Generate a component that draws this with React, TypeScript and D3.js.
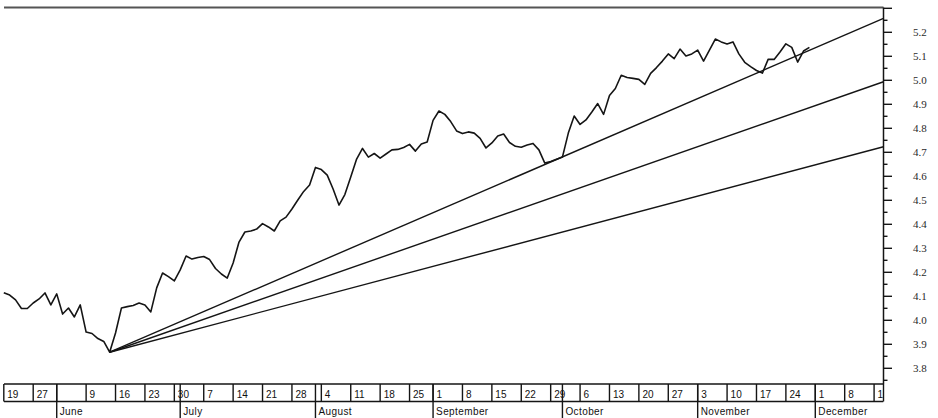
import React from "react";
import * as d3 from "d3";

const WIDTH = 938;
const HEIGHT = 418;

// Trading calendar (UK market, 2003)
const calendarStart = "2003-05-19";
const calendarEnd = "2003-12-19";
const holidays = ["2003-05-26", "2003-08-25"];

// Daily closing values, one per trading day from 19 May 2003
const yieldValues = [
  4.115, 4.105, 4.085, 4.049, 4.049, 4.072, 4.089, 4.114, 4.064, 4.110,
  4.026, 4.051, 4.014, 4.064, 3.951, 3.945, 3.924, 3.912, 3.867, 3.947,
  4.051, 4.057, 4.062, 4.072, 4.064, 4.035, 4.135, 4.197, 4.182, 4.164,
  4.210, 4.268, 4.255, 4.262, 4.266, 4.253, 4.216, 4.193, 4.176, 4.239,
  4.326, 4.368, 4.372, 4.380, 4.403, 4.389, 4.372, 4.414, 4.430, 4.464,
  4.501, 4.537, 4.564, 4.637, 4.628, 4.605, 4.547, 4.480, 4.524, 4.597,
  4.672, 4.716, 4.680, 4.695, 4.676, 4.693, 4.710, 4.712, 4.720, 4.733,
  4.705, 4.735, 4.743, 4.833, 4.872, 4.858, 4.828, 4.789, 4.778, 4.785,
  4.780, 4.758, 4.718, 4.739, 4.768, 4.776, 4.741, 4.725, 4.721, 4.730,
  4.737, 4.710, 4.655, 4.662, 4.671, 4.680, 4.780, 4.851, 4.816, 4.835,
  4.868, 4.903, 4.858, 4.937, 4.966, 5.021, 5.012, 5.008, 5.004, 4.983,
  5.029, 5.053, 5.080, 5.110, 5.090, 5.130, 5.101, 5.110, 5.126, 5.080,
  5.126, 5.172, 5.160, 5.151, 5.160, 5.110, 5.075, 5.057, 5.041, 5.030,
  5.088, 5.087, 5.118, 5.152, 5.137, 5.076, 5.122, 5.137,
];

// Fan lines: values reached at the right edge of the plot
const fanEndValues = [5.258, 4.994, 4.723];

const weekLabels = [
  "19", "27", "", "9", "16", "23", "30", "7", "14", "21", "28", "4", "11", "18", "25",
  "1", "8", "15", "22", "29", "6", "13", "20", "27", "3", "10", "17", "24", "1", "8", "15",
];
const monthLabels = ["June", "July", "August", "September", "October", "November", "December"];

const yLabelValues = [3.8, 3.9, 4.0, 4.1, 4.2, 4.3, 4.4, 4.5, 4.6, 4.7, 4.8, 4.9, 5.0, 5.1, 5.2];
const yMajorTicks = [3.8, 3.9, 4.0, 4.1, 4.2, 4.3, 4.4, 4.5, 4.6, 4.7, 4.8, 4.9, 5.0, 5.1, 5.2, 5.3];
const yMinorTicks = [3.75, 3.85, 3.95, 4.05, 4.15, 4.25, 4.35, 4.45, 4.55, 4.65, 4.75, 4.85, 4.95, 5.05, 5.15, 5.25];

function buildCalendar(): Date[] {
  const parse = d3.utcParse("%Y-%m-%d");
  const fmt = d3.utcFormat("%Y-%m-%d");
  const hol = new Set(holidays);
  const days: Date[] = [];
  let d = parse(calendarStart)!;
  const end = parse(calendarEnd)!;
  while (d <= end) {
    const wd = d.getUTCDay();
    if (wd !== 0 && wd !== 6 && !hol.has(fmt(d))) days.push(d);
    d = d3.utcDay.offset(d, 1);
  }
  return days;
}

export default function App() {
  const days = buildCalendar();

  const plotLeft = 3.8;
  const plotRight = 883.5;
  const plotTop = 7.5;
  const axisBottom = 384;
  const boxBottom = 401.5;

  const x = d3.scaleLinear().domain([0, 149.6]).range([plotLeft, plotRight]);
  const y = d3.scaleLinear().domain([3.8, 5.2]).range([368.3, 32.3]);

  const weekIdx: number[] = [];
  const monthIdx: number[] = [];
  days.forEach((d, i) => {
    if (i === 0 || +d3.utcMonday.floor(d) !== +d3.utcMonday.floor(days[i - 1])) weekIdx.push(i);
    if (i > 0 && d.getUTCMonth() !== days[i - 1].getUTCMonth()) monthIdx.push(i);
  });

  const line = d3
    .line<number>()
    .x((_, i) => x(i))
    .y((v) => y(v));

  const lowIdx = d3.minIndex(yieldValues);
  const lowVal = yieldValues[lowIdx];
  const xEnd = x.domain()[1];

  const ink = "#151515";
  const sans = "'Liberation Sans', Arial, sans-serif";
  const serif = "'Liberation Serif', 'Times New Roman', serif";

  return (
    <svg
      width={WIDTH}
      height={HEIGHT}
      style={{ position: "absolute", left: 0, top: 0, background: "#fff" }}
    >
      <defs>
        <clipPath id="dateClip">
          <rect x={0} y={axisBottom - 1} width={plotRight} height={HEIGHT - axisBottom + 1} />
        </clipPath>
      </defs>

      {/* top frame */}
      <line x1={4} x2={plotRight} y1={plotTop} y2={plotTop} stroke="#555" strokeWidth={1.8} />

      {/* right axis */}
      <line x1={plotRight} x2={plotRight} y1={plotTop} y2={axisBottom} stroke={ink} strokeWidth={1.5} />
      {yMajorTicks.map((v) => (
        <line key={"M" + v} x1={plotRight} x2={plotRight + 8.5} y1={y(v)} y2={y(v)} stroke={ink} strokeWidth={1.4} />
      ))}
      {yMinorTicks.map((v) => (
        <line key={"m" + v} x1={plotRight} x2={plotRight + 4} y1={y(v)} y2={y(v)} stroke={ink} strokeWidth={1.4} />
      ))}
      {yLabelValues.map((v) => (
        <text
          key={"l" + v}
          x={913}
          y={y(v)}
          dy="0.35em"
          fontFamily={serif}
          fontSize={11}
          fill="#2a2a2a"
        >
          {v.toFixed(1)}
        </text>
      ))}

      {/* fan lines */}
      {fanEndValues.map((v, k) => (
        <line
          key={"fan" + k}
          x1={x(lowIdx)}
          y1={y(lowVal)}
          x2={x(xEnd)}
          y2={y(v)}
          stroke={ink}
          strokeWidth={1.4}
        />
      ))}

      {/* price line */}
      <path d={line(yieldValues) || ""} fill="none" stroke={ink} strokeWidth={1.6} strokeLinejoin="round" />

      {/* date axis */}
      <g clipPath="url(#dateClip)">
        <line x1={4} x2={plotRight} y1={axisBottom} y2={axisBottom} stroke={ink} strokeWidth={1.5} />
        <line x1={4} x2={plotRight} y1={boxBottom} y2={boxBottom} stroke={ink} strokeWidth={1.5} />
        {weekIdx.map((i, k) => (
          <g key={"w" + k}>
            <line x1={x(i)} x2={x(i)} y1={axisBottom} y2={boxBottom} stroke={ink} strokeWidth={1.4} />
            <text x={x(i) + 3.5} y={398} fontFamily={sans} fontSize={10} fill="#111">
              {weekLabels[k] ?? ""}
            </text>
          </g>
        ))}
        {monthIdx.map((i, k) => (
          <g key={"mo" + k}>
            <line x1={x(i)} x2={x(i)} y1={axisBottom} y2={HEIGHT} stroke={ink} strokeWidth={1.4} />
            <text x={x(i) + 3} y={415} fontFamily={sans} fontSize={10} fill="#111" letterSpacing={0.4}>
              {monthLabels[k] ?? ""}
            </text>
          </g>
        ))}
      </g>
      <line x1={plotRight} x2={plotRight} y1={axisBottom} y2={boxBottom} stroke={ink} strokeWidth={1.4} />
    </svg>
  );
}
